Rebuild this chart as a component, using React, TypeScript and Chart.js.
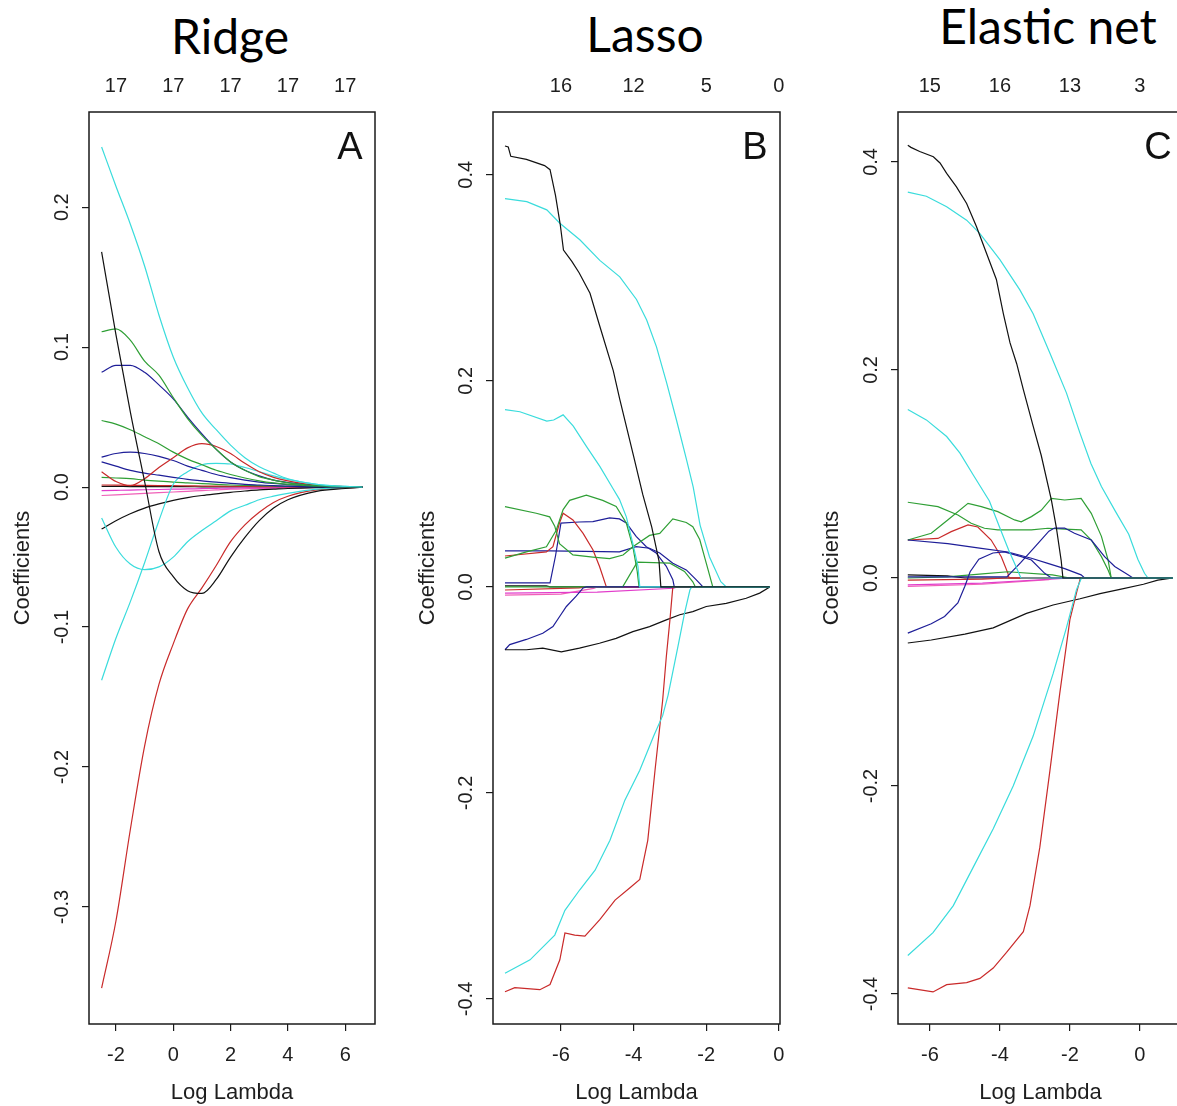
import React, { useEffect, useRef } from "react";
import { Chart, registerables } from "chart.js";

Chart.register(...registerables);

// ---------------- Ridge (panel A) ----------------
const ridgeLogLambda = [-2.5, -2, -1.5, -1, -0.5, 0, 0.5, 1, 1.5, 2, 2.5, 3, 3.5, 4, 5, 6, 6.6];
const ridgeCyanA = [0.243, 0.215, 0.188, 0.158, 0.123, 0.093, 0.071, 0.053, 0.041, 0.03, 0.021, 0.0145, 0.01, 0.006, 0.002, 0.0005, 0];
const ridgeBlackA = [0.168, 0.109, 0.054, 0.004, -0.046, -0.064, -0.074, -0.076, -0.066, -0.05, -0.036, -0.024, -0.015, -0.009, -0.003, -0.001, 0];
const ridgeGreenA = [0.111, 0.113, 0.105, 0.09, 0.08, 0.064, 0.049, 0.037, 0.027, 0.018, 0.012, 0.0075, 0.005, 0.003, 0.001, 0.0003, 0];
const ridgeNavyA = [0.082, 0.087, 0.087, 0.082, 0.073, 0.063, 0.05, 0.038, 0.027, 0.018, 0.012, 0.008, 0.005, 0.0033, 0.001, 0.0003, 0];
const ridgeGreenB = [0.0476, 0.045, 0.041, 0.036, 0.031, 0.025, 0.02, 0.016, 0.012, 0.009, 0.0065, 0.0045, 0.003, 0.002, 0.0007, 0.0002, 0];
const ridgeRedA = [0.011, 0.004, 0.001, 0.006, 0.014, 0.021, 0.028, 0.031, 0.029, 0.024, 0.017, 0.011, 0.007, 0.0045, 0.0013, 0.0003, 0];
const ridgeNavyB = [0.0214, 0.024, 0.025, 0.024, 0.022, 0.019, 0.015, 0.012, 0.009, 0.0068, 0.005, 0.0036, 0.0026, 0.0018, 0.0006, 0.0002, 0];
const ridgeNavyC = [0.018, 0.015, 0.012, 0.01, 0.0085, 0.007, 0.0055, 0.0045, 0.0035, 0.0027, 0.002, 0.0015, 0.001, 0.0007, 0.0002, 0.0001, 0];
const ridgeCyanB = [-0.022, -0.043, -0.055, -0.059, -0.057, -0.05, -0.039, -0.031, -0.024, -0.017, -0.013, -0.009, -0.0065, -0.0045, -0.0015, -0.0004, 0];
const ridgeCyanC = [-0.138, -0.108, -0.082, -0.054, -0.024, 0.002, 0.011, 0.016, 0.017, 0.0165, 0.014, 0.011, 0.008, 0.0055, 0.002, 0.0005, 0];
const ridgeBlackB = [-0.03, -0.024, -0.019, -0.015, -0.012, -0.0095, -0.0075, -0.006, -0.0048, -0.0037, -0.0028, -0.002, -0.0015, -0.001, -0.0004, -0.0001, 0];
const ridgeRedB = [-0.358, -0.31, -0.245, -0.185, -0.141, -0.112, -0.087, -0.072, -0.056, -0.039, -0.027, -0.018, -0.011, -0.0065, -0.002, -0.0005, 0];
const ridgeGreenC = [0.007, 0.0065, 0.006, 0.005, 0.0042, 0.0035, 0.003, 0.0025, 0.002, 0.0015, 0.0012, 0.001, 0.0008, 0.0005, 0.0002, 0.0001, 0];
const ridgeRedC = [0.0015, 0.0014, 0.0013, 0.0012, 0.0011, 0.001, 0.0009, 0.0008, 0.0007, 0.0006, 0.0005, 0.0004, 0.0003, 0.0002, 0.0001, 0, 0];
const ridgeMagenta = [-0.0025, -0.0023, -0.0021, -0.0019, -0.0017, -0.0015, -0.0013, -0.0011, -0.0009, -0.0007, -0.0006, -0.0005, -0.0004, -0.0003, -0.0001, 0, 0];
const ridgePink = [-0.006, -0.0055, -0.005, -0.0045, -0.004, -0.0035, -0.003, -0.0025, -0.002, -0.0015, -0.0012, -0.001, -0.0007, -0.0005, -0.0002, -0.0001, 0];
const ridgeBlackC = [0.0005, 0.0005, 0.0004, 0.0004, 0.0003, 0.0003, 0.0003, 0.0002, 0.0002, 0.0002, 0.0001, 0.0001, 0.0001, 0.0001, 0, 0, 0];

const ridgeXTicks = [-2, 0, 2, 4, 6];
const ridgeTopLabels = ["17", "17", "17", "17", "17"];
const ridgeYTicks = [-0.3, -0.2, -0.1, 0, 0.1, 0.2];

// ---------------- Lasso (panel B) ----------------
type Pt = [number, number];
const lassoBlackA: Pt[] = [[-7.54, 0.428], [-7.45, 0.427], [-7.38, 0.418], [-6.95, 0.415], [-6.45, 0.409], [-6.3, 0.405], [-6.15, 0.38], [-6.02, 0.352], [-5.93, 0.327], [-5.7, 0.316], [-5.5, 0.305], [-5.2, 0.285], [-4.93, 0.253], [-4.56, 0.21], [-4.38, 0.182], [-4.0, 0.127], [-3.75, 0.09], [-3.5, 0.058], [-3.3, 0.025], [-3.25, 0], [-0.25, 0]];
const lassoCyanA: Pt[] = [[-7.54, 0.377], [-6.94, 0.374], [-6.39, 0.366], [-6.03, 0.353], [-5.48, 0.337], [-4.93, 0.317], [-4.38, 0.301], [-3.92, 0.279], [-3.64, 0.259], [-3.37, 0.233], [-3.09, 0.198], [-2.82, 0.162], [-2.54, 0.123], [-2.36, 0.097], [-2.17, 0.06], [-1.91, 0.029], [-1.6, 0.005], [-1.45, 0], [-0.25, 0]];
const lassoCyanB: Pt[] = [[-7.54, 0.172], [-7.13, 0.17], [-6.39, 0.161], [-6.2, 0.162], [-5.94, 0.167], [-5.66, 0.156], [-5.29, 0.136], [-4.93, 0.117], [-4.56, 0.095], [-4.39, 0.085], [-4.2, 0.068], [-4.02, 0.042], [-3.88, 0.02], [-3.83, 0], [-0.25, 0]];
const lassoCyanC: Pt[] = [[-7.54, -0.375], [-6.85, -0.362], [-6.17, -0.338], [-5.89, -0.314], [-5.48, -0.294], [-5.06, -0.275], [-4.65, -0.246], [-4.24, -0.207], [-3.83, -0.178], [-3.45, -0.145], [-3.2, -0.125], [-3.05, -0.105], [-2.78, -0.058], [-2.6, -0.026], [-2.45, -0.003], [-2.4, 0], [-0.25, 0]];
const lassoRedA: Pt[] = [[-7.54, -0.393], [-7.27, -0.389], [-6.58, -0.391], [-6.3, -0.386], [-6.03, -0.362], [-5.89, -0.336], [-5.62, -0.338], [-5.34, -0.339], [-4.93, -0.323], [-4.51, -0.304], [-4.1, -0.292], [-3.83, -0.284], [-3.61, -0.246], [-3.41, -0.178], [-3.2, -0.11], [-3.1, -0.068], [-3.0, -0.032], [-2.92, 0], [-0.25, 0]];
const lassoBlackB: Pt[] = [[-7.54, -0.061], [-6.95, -0.061], [-6.5, -0.0595], [-5.99, -0.063], [-5.49, -0.0595], [-4.94, -0.0547], [-4.48, -0.05], [-4.02, -0.0434], [-3.56, -0.0385], [-3.1, -0.032], [-2.73, -0.027], [-2.37, -0.024], [-2.0, -0.019], [-1.45, -0.016], [-0.9, -0.011], [-0.53, -0.006], [-0.25, 0]];
const lassoNavyA: Pt[] = [[-7.54, -0.061], [-7.41, -0.056], [-6.95, -0.051], [-6.5, -0.045], [-6.22, -0.0385], [-6.04, -0.029], [-5.85, -0.019], [-5.58, -0.009], [-5.39, -0.001], [-5.3, 0], [-0.25, 0]];
const lassoGreenA: Pt[] = [[-7.54, 0.078], [-6.68, 0.0715], [-6.31, 0.068], [-6.17, 0.059], [-6.04, 0.042], [-5.67, 0.031], [-5.12, 0.029], [-4.66, 0.0275], [-4.29, 0.031], [-4.02, 0.039], [-3.56, 0.05], [-3.28, 0.052], [-2.92, 0.066], [-2.55, 0.0625], [-2.37, 0.0585], [-2.18, 0.046], [-2.0, 0.023], [-1.82, 0], [-0.25, 0]];
const lassoGreenB: Pt[] = [[-7.54, 0.028], [-6.95, 0.034], [-6.4, 0.039], [-6.13, 0.055], [-5.94, 0.075], [-5.76, 0.084], [-5.3, 0.089], [-4.85, 0.084], [-4.48, 0.078], [-4.2, 0.062], [-4.02, 0.039], [-3.9, 0.015], [-3.85, 0], [-0.25, 0]];
const lassoGreenC: Pt[] = [[-7.54, 0], [-4.3, 0], [-3.9, 0.024], [-3.0, 0.023], [-2.6, 0.015], [-2.37, 0.005], [-2.3, 0], [-0.25, 0]];
const lassoRedB: Pt[] = [[-7.54, 0.03], [-6.4, 0.034], [-6.22, 0.039], [-6.04, 0.062], [-5.94, 0.0715], [-5.67, 0.065], [-5.39, 0.052], [-5.12, 0.036], [-4.94, 0.02], [-4.75, 0], [-0.25, 0]];
const lassoNavyB: Pt[] = [[-7.54, 0.004], [-6.3, 0.004], [-6.15, 0.03], [-6.0, 0.062], [-5.5, 0.063], [-5.12, 0.0634], [-4.66, 0.067], [-4.39, 0.066], [-4.2, 0.062], [-3.93, 0.049], [-3.65, 0.039], [-3.38, 0.033], [-3.1, 0.02], [-2.92, 0.007], [-2.88, 0], [-0.25, 0]];
const lassoNavyC: Pt[] = [[-7.54, 0.035], [-6.3, 0.035], [-4.39, 0.034], [-3.93, 0.039], [-3.56, 0.0375], [-3.28, 0.033], [-2.92, 0.023], [-2.55, 0.0165], [-2.28, 0.007], [-2.09, 0], [-0.25, 0]];
const lassoMagenta: Pt[] = [[-7.54, -0.006], [-5.0, -0.005], [-2.9, -0.0013], [-2.8, 0], [-0.25, 0]];
const lassoPink: Pt[] = [[-7.54, -0.008], [-6.0, -0.007], [-5.1, -0.0015], [-5.0, 0], [-0.25, 0]];
const lassoRedC: Pt[] = [[-7.54, -0.003], [-5.5, -0.001], [-5.3, 0], [-0.25, 0]];
const lassoBlackC: Pt[] = [[-7.54, 0.001], [-6.4, 0.001], [-6.3, 0], [-0.25, 0]];

const lassoXTicks = [-6, -4, -2, 0];
const lassoTopLabels = ["16", "12", "5", "0"];
const lassoYTicks = [-0.4, -0.2, 0, 0.2, 0.4];

// ---------------- Elastic net (panel C) ----------------
const enBlackA: Pt[] = [[-6.63, 0.416], [-6.54, 0.414], [-6.29, 0.41], [-5.9, 0.405], [-5.71, 0.399], [-5.52, 0.389], [-5.24, 0.376], [-4.95, 0.36], [-4.67, 0.338], [-4.38, 0.312], [-4.1, 0.287], [-3.9, 0.254], [-3.71, 0.226], [-3.52, 0.206], [-3.33, 0.181], [-3.05, 0.146], [-2.82, 0.118], [-2.53, 0.075], [-2.39, 0.049], [-2.25, 0.017], [-2.2, 0], [0.94, 0]];
const enCyanA: Pt[] = [[-6.63, 0.371], [-6.1, 0.367], [-5.52, 0.357], [-4.95, 0.344], [-4.57, 0.331], [-4.0, 0.306], [-3.43, 0.277], [-3.05, 0.254], [-2.57, 0.216], [-2.1, 0.178], [-1.71, 0.139], [-1.4, 0.11], [-1.1, 0.088], [-0.7, 0.064], [-0.32, 0.042], [-0.06, 0.018], [0.13, 0.0045], [0.23, 0], [0.94, 0]];
const enCyanB: Pt[] = [[-6.63, 0.162], [-6.1, 0.152], [-5.52, 0.136], [-5.14, 0.12], [-4.76, 0.099], [-4.3, 0.074], [-4.0, 0.048], [-3.75, 0.027], [-3.5, 0.008], [-3.4, 0], [0.94, 0]];
const enCyanC: Pt[] = [[-6.63, -0.363], [-5.91, -0.341], [-5.33, -0.315], [-4.76, -0.278], [-4.19, -0.241], [-3.62, -0.2], [-3.05, -0.152], [-2.48, -0.092], [-2.1, -0.048], [-1.81, -0.011], [-1.67, 0], [0.94, 0]];
const enRedA: Pt[] = [[-6.63, -0.394], [-5.91, -0.398], [-5.52, -0.391], [-4.95, -0.389], [-4.57, -0.385], [-4.19, -0.375], [-3.81, -0.36], [-3.33, -0.34], [-3.14, -0.315], [-2.86, -0.259], [-2.57, -0.185], [-2.29, -0.111], [-2.0, -0.04], [-1.81, -0.014], [-1.7, 0], [0.94, 0]];
const enBlackB: Pt[] = [[-6.63, -0.0625], [-5.96, -0.0596], [-5.0, -0.054], [-4.19, -0.048], [-3.24, -0.034], [-2.48, -0.026], [-1.71, -0.02], [-1.14, -0.015], [-0.57, -0.011], [0.1, -0.006], [0.51, -0.002], [0.94, 0]];
const enNavyA: Pt[] = [[-6.63, 0.0365], [-5.49, 0.033], [-4.53, 0.0285], [-3.77, 0.025], [-3.1, 0.019], [-2.63, 0.014], [-2.15, 0.009], [-1.68, 0.003], [-1.58, 0], [0.94, 0]];
const enNavyB: Pt[] = [[-6.63, -0.053], [-5.96, -0.044], [-5.58, -0.037], [-5.2, -0.024], [-5.0, -0.008], [-4.85, 0.006], [-4.6, 0.018], [-4.2, 0.024], [-3.87, 0.025], [-3.39, 0.0205], [-3.1, 0.0173], [-2.72, 0.0045], [-2.53, 0], [0.94, 0]];
const enNavyC: Pt[] = [[-6.63, 0.001], [-3.8, 0.001], [-3.4, 0.015], [-3.0, 0.03], [-2.6, 0.045], [-2.44, 0.048], [-2.15, 0.048], [-1.87, 0.043], [-1.39, 0.0365], [-1.01, 0.0205], [-0.72, 0.011], [-0.34, 0.003], [-0.2, 0], [0.94, 0]];
const enGreenA: Pt[] = [[-6.63, 0.0728], [-5.77, 0.0686], [-5.2, 0.0606], [-4.82, 0.0526], [-4.44, 0.0478], [-4.06, 0.0462], [-3.1, 0.0462], [-2.63, 0.0478], [-2.15, 0.047], [-1.68, 0.0462], [-1.39, 0.0365], [-1.1, 0.0205], [-0.91, 0.0077], [-0.82, 0], [0.94, 0]];
const enGreenB: Pt[] = [[-6.63, 0.0365], [-5.96, 0.043], [-5.49, 0.0558], [-4.91, 0.0718], [-4.53, 0.0686], [-4.06, 0.0638], [-3.58, 0.0558], [-3.39, 0.054], [-3.1, 0.059], [-2.82, 0.065], [-2.53, 0.0766], [-2.15, 0.075], [-1.68, 0.0766], [-1.39, 0.0622], [-1.1, 0.04], [-0.91, 0.0173], [-0.82, 0], [0.94, 0]];
const enGreenC: Pt[] = [[-6.63, 0], [-5.5, 0.001], [-4.5, 0.004], [-3.77, 0.006], [-2.5, 0.003], [-2.0, 0], [0.94, 0]];
const enRedB: Pt[] = [[-6.63, 0.0365], [-5.77, 0.038], [-5.39, 0.0446], [-4.91, 0.051], [-4.63, 0.049], [-4.25, 0.0365], [-3.96, 0.0205], [-3.77, 0.0045], [-3.74, 0], [0.94, 0]];
const enMagenta: Pt[] = [[-6.63, -0.0067], [-4.5, -0.005], [-1.96, 0], [0.94, 0]];
const enPink: Pt[] = [[-6.63, -0.008], [-4.5, -0.006], [-2.6, -0.0015], [-2.5, 0], [0.94, 0]];
const enRedC: Pt[] = [[-6.63, -0.002], [-4.5, -0.001], [-3.8, 0], [0.94, 0]];
const enBlackC: Pt[] = [[-6.63, 0.003], [-5.5, 0.002], [-5.0, 0], [0.94, 0]];

const enXTicks = [-6, -4, -2, 0];
const enTopLabels = ["15", "16", "13", "3"];
const enYTicks = [-0.4, -0.2, 0, 0.2, 0.4];

// ---------------- styling ----------------
const COL = {
  black: "#111111",
  red: "#c92a2a",
  green: "#2f9f35",
  navy: "#1e1e98",
  cyan: "#3adcdc",
  magenta: "#e23ccb",
  pink: "#f060b8",
};

const zip = (xs: number[], ys: number[]) => xs.map((x, i) => ({ x, y: ys[i] }));
const pts = (p: Pt[]) => p.map(([x, y]) => ({ x, y }));

const ridgeSeries = [
  { c: COL.cyan, d: zip(ridgeLogLambda, ridgeCyanA) },
  { c: COL.black, d: zip(ridgeLogLambda, ridgeBlackA) },
  { c: COL.green, d: zip(ridgeLogLambda, ridgeGreenA) },
  { c: COL.navy, d: zip(ridgeLogLambda, ridgeNavyA) },
  { c: COL.green, d: zip(ridgeLogLambda, ridgeGreenB) },
  { c: COL.red, d: zip(ridgeLogLambda, ridgeRedA) },
  { c: COL.navy, d: zip(ridgeLogLambda, ridgeNavyB) },
  { c: COL.navy, d: zip(ridgeLogLambda, ridgeNavyC) },
  { c: COL.cyan, d: zip(ridgeLogLambda, ridgeCyanB) },
  { c: COL.cyan, d: zip(ridgeLogLambda, ridgeCyanC) },
  { c: COL.black, d: zip(ridgeLogLambda, ridgeBlackB) },
  { c: COL.red, d: zip(ridgeLogLambda, ridgeRedB) },
  { c: COL.green, d: zip(ridgeLogLambda, ridgeGreenC) },
  { c: COL.red, d: zip(ridgeLogLambda, ridgeRedC) },
  { c: COL.magenta, d: zip(ridgeLogLambda, ridgeMagenta) },
  { c: COL.pink, d: zip(ridgeLogLambda, ridgePink) },
  { c: COL.black, d: zip(ridgeLogLambda, ridgeBlackC) },
];

const lassoSeries = [
  { c: COL.black, d: pts(lassoBlackA) },
  { c: COL.cyan, d: pts(lassoCyanA) },
  { c: COL.cyan, d: pts(lassoCyanB) },
  { c: COL.cyan, d: pts(lassoCyanC) },
  { c: COL.red, d: pts(lassoRedA) },
  { c: COL.black, d: pts(lassoBlackB) },
  { c: COL.navy, d: pts(lassoNavyA) },
  { c: COL.green, d: pts(lassoGreenA) },
  { c: COL.green, d: pts(lassoGreenB) },
  { c: COL.green, d: pts(lassoGreenC) },
  { c: COL.red, d: pts(lassoRedB) },
  { c: COL.navy, d: pts(lassoNavyB) },
  { c: COL.navy, d: pts(lassoNavyC) },
  { c: COL.magenta, d: pts(lassoMagenta) },
  { c: COL.pink, d: pts(lassoPink) },
  { c: COL.red, d: pts(lassoRedC) },
  { c: COL.black, d: pts(lassoBlackC) },
];

const enSeries = [
  { c: COL.black, d: pts(enBlackA) },
  { c: COL.cyan, d: pts(enCyanA) },
  { c: COL.cyan, d: pts(enCyanB) },
  { c: COL.cyan, d: pts(enCyanC) },
  { c: COL.red, d: pts(enRedA) },
  { c: COL.black, d: pts(enBlackB) },
  { c: COL.navy, d: pts(enNavyA) },
  { c: COL.navy, d: pts(enNavyB) },
  { c: COL.navy, d: pts(enNavyC) },
  { c: COL.green, d: pts(enGreenA) },
  { c: COL.green, d: pts(enGreenB) },
  { c: COL.green, d: pts(enGreenC) },
  { c: COL.red, d: pts(enRedB) },
  { c: COL.magenta, d: pts(enMagenta) },
  { c: COL.pink, d: pts(enPink) },
  { c: COL.red, d: pts(enRedC) },
  { c: COL.black, d: pts(enBlackC) },
];

const AXIS_FONT = '"Liberation Sans", Arial, sans-serif';
const TEXT = "#1e1e1e";

type PanelCfg = {
  letter: string;
  canvasLeft: number;
  canvasWidth: number;
  yAxisWidth: number;
  rightPad: number;
  xMin: number;
  xMax: number;
  yMin: number;
  yMax: number;
  xTicks: number[];
  topLabels: string[];
  yTicks: number[];
  series: { c: string; d: { x: number; y: number }[] }[];
  smooth: boolean;
  yTitlePad: number;
};

const CANVAS_TOP = 60;
const CANVAS_H = 1046;

const panels: PanelCfg[] = [
  { letter: "A", canvasLeft: 0, canvasWidth: 400, yAxisWidth: 89, rightPad: 25, xMin: -2.94, xMax: 7.04, yMin: -0.3836, yMax: 0.268, xTicks: ridgeXTicks, topLabels: ridgeTopLabels, yTicks: ridgeYTicks, series: ridgeSeries, smooth: true, yTitlePad: 10 },
  { letter: "B", canvasLeft: 400, canvasWidth: 400, yAxisWidth: 93, rightPad: 20, xMin: -7.87, xMax: 0.03, yMin: -0.4243, yMax: 0.461, xTicks: lassoXTicks, topLabels: lassoTopLabels, yTicks: lassoYTicks, series: lassoSeries, smooth: false, yTitlePad: 15 },
  { letter: "C", canvasLeft: 800, canvasWidth: 400, yAxisWidth: 98, rightPad: 17, xMin: -6.91, xMax: 1.23, yMin: -0.4288, yMax: 0.448, xTicks: enXTicks, topLabels: enTopLabels, yTicks: enYTicks, series: enSeries, smooth: false, yTitlePad: 19 },
];

function Panel({ cfg }: { cfg: PanelCfg }) {
  const ref = useRef<HTMLCanvasElement | null>(null);
  useEffect(() => {
    if (!ref.current) return;
    const boxPlugin = {
      id: "boxAndLabels",
      afterDraw(chart: any) {
        const { ctx, chartArea: a, scales } = chart;
        ctx.save();
        ctx.strokeStyle = "#1a1a1a";
        ctx.lineWidth = 1.5;
        ctx.strokeRect(a.left, a.top, a.right - a.left, a.bottom - a.top);
        ctx.fillStyle = TEXT;
        ctx.font = `20px ${AXIS_FONT}`;
        ctx.textAlign = "center";
        ctx.textBaseline = "middle";
        for (const v of cfg.yTicks) {
          const y = scales.y.getPixelForValue(v);
          ctx.save();
          ctx.translate(a.left - 27, y);
          ctx.rotate(-Math.PI / 2);
          ctx.fillText(v.toFixed(1), 0, 0);
          ctx.restore();
        }
        ctx.font = `38px ${AXIS_FONT}`;
        ctx.fillStyle = "#111";
        ctx.fillText(cfg.letter, a.right - 25, a.top + 37);
        ctx.restore();
      },
    };
    const chart = new Chart(ref.current, {
      type: "line",
      data: {
        datasets: cfg.series.map((s) => ({
          data: s.d,
          borderColor: s.c,
          backgroundColor: s.c,
          borderWidth: 1.2,
          pointRadius: 0,
          fill: false,
          tension: cfg.smooth ? 0.4 : 0,
          cubicInterpolationMode: cfg.smooth ? "monotone" : "default",
          xAxisID: "x",
          yAxisID: "y",
        })) as any,
      },
      options: {
        responsive: false,
        maintainAspectRatio: false,
        animation: false,
        events: [],
        layout: { padding: { left: 0, right: cfg.rightPad, top: 0, bottom: 0 } },
        plugins: { legend: { display: false }, tooltip: { enabled: false }, title: { display: false } },
        scales: {
          x: {
            type: "linear",
            position: "bottom",
            min: cfg.xMin,
            max: cfg.xMax,
            bounds: "data",
            afterBuildTicks: (s: any) => {
              s.ticks = cfg.xTicks.map((v) => ({ value: v }));
            },
            afterFit: (s: any) => {
              s.height = 82;
            },
            grid: { display: true, drawOnChartArea: false, drawTicks: true, tickLength: 7, color: "#1a1a1a", lineWidth: 1.2 },
            border: { display: false },
            ticks: {
              autoSkip: false,
              maxRotation: 0,
              padding: 12,
              color: TEXT,
              font: { family: AXIS_FONT, size: 20 },
              callback: (v: any) => String(v),
            },
            title: { display: true, text: "Log Lambda", color: TEXT, font: { family: AXIS_FONT, size: 22 }, padding: { top: 0, bottom: 0 } },
          },
          xTop: {
            type: "linear",
            position: "top",
            min: cfg.xMin,
            max: cfg.xMax,
            bounds: "data",
            afterBuildTicks: (s: any) => {
              s.ticks = cfg.xTicks.map((v) => ({ value: v }));
            },
            afterFit: (s: any) => {
              s.height = 52;
            },
            grid: { display: false },
            border: { display: false },
            ticks: {
              autoSkip: false,
              maxRotation: 0,
              padding: 6,
              color: TEXT,
              font: { family: AXIS_FONT, size: 20 },
              callback: (_v: any, i: number) => cfg.topLabels[i],
            },
          },
          y: {
            type: "linear",
            position: "left",
            min: cfg.yMin,
            max: cfg.yMax,
            bounds: "data",
            afterBuildTicks: (s: any) => {
              s.ticks = cfg.yTicks.map((v) => ({ value: v }));
            },
            afterFit: (s: any) => {
              s.width = cfg.yAxisWidth;
            },
            grid: { display: true, drawOnChartArea: false, drawTicks: true, tickLength: 7, color: "#1a1a1a", lineWidth: 1.2 },
            border: { display: false },
            ticks: { display: false },
            title: { display: true, text: "Coefficients", color: TEXT, font: { family: AXIS_FONT, size: 22 }, padding: { top: cfg.yTitlePad, bottom: 0 } },
          },
        },
      } as any,
      plugins: [boxPlugin],
    });
    return () => chart.destroy();
  }, [cfg]);
  return (
    <canvas
      ref={ref}
      width={cfg.canvasWidth}
      height={CANVAS_H}
      style={{ position: "absolute", left: cfg.canvasLeft, top: CANVAS_TOP, width: cfg.canvasWidth, height: CANVAS_H }}
    />
  );
}

const titles = [
  { text: "Ridge", cx: 230, top: 12 },
  { text: "Lasso", cx: 645, top: 10 },
  { text: "Elastic net", cx: 1048, top: 2 },
];

export default function App() {
  return (
    <div
      style={{
        position: "fixed",
        left: 0,
        top: 0,
        width: 1177,
        height: 1106,
        overflow: "hidden",
        background: "#ffffff",
      }}
    >
      {titles.map((t) => (
        <div
          key={t.text}
          style={{
            position: "absolute",
            left: t.cx,
            top: t.top,
            transform: "translateX(-50%)",
            fontFamily: "Lato, 'Open Sans', sans-serif",
            fontSize: 48,
            lineHeight: "48px",
            color: "#000",
            whiteSpace: "nowrap",
          }}
        >
          {t.text}
        </div>
      ))}
      {panels.map((p) => (
        <Panel key={p.letter} cfg={p} />
      ))}
    </div>
  );
}
